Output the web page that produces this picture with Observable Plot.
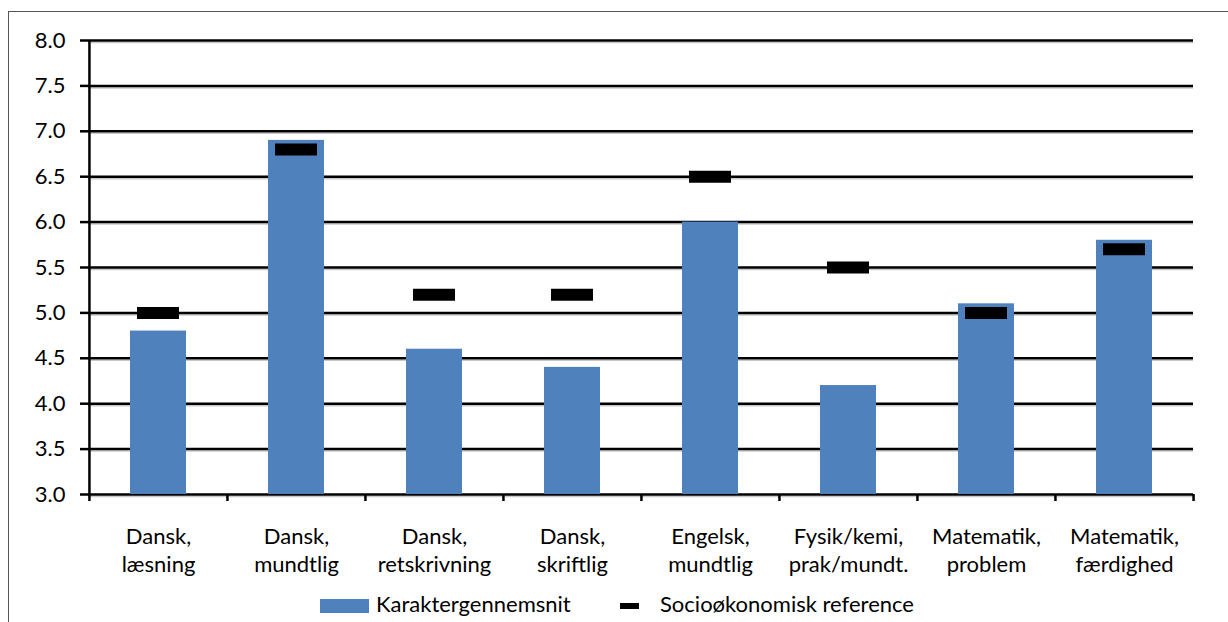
<!DOCTYPE html>
<html>
<head>
<meta charset="utf-8">
<script src="https://cdn.jsdelivr.net/npm/d3@7"></script>
<script src="https://cdn.jsdelivr.net/npm/@observablehq/plot@0.6"></script>
<style>
  html, body { margin: 0; padding: 0; background: #fff; }
  #wrap { position: relative; width: 1228px; height: 622px; overflow: hidden; font-family: Lato, "Open Sans", sans-serif; }
  #border { position: absolute; left: 8px; top: 11px; width: 1400px; height: 800px; border-left: 1px solid #555; border-top: 1px solid #555; }
  #chart { position: absolute; left: 0; top: 0; }
  .leg { position: absolute; font-size: 22px; line-height: 22px; color: #000; white-space: nowrap; }
  .sw { position: absolute; }
</style>
</head>
<body>
<div id="wrap">
  <div id="border"></div>
  <div id="chart"></div>
  <div class="sw" style="left:320px;top:599px;width:49px;height:14px;background:#4F81BD"></div>
  <div class="leg" style="left:376px;top:593px">Karaktergennemsnit</div>
  <div class="sw" style="left:620px;top:603px;width:19px;height:6px;background:#000"></div>
  <div class="leg" style="left:660px;top:593px">Socioøkonomisk reference</div>
</div>
<script>
const categories = ["Dansk, læsning", "Dansk, mundtlig", "Dansk, retskrivning", "Dansk, skriftlig", "Engelsk, mundtlig", "Fysik/kemi, prak/mundt.", "Matematik, problem", "Matematik, færdighed"];
const tickLabels = ["Dansk,\nlæsning", "Dansk,\nmundtlig", "Dansk,\nretskrivning", "Dansk,\nskriftlig", "Engelsk,\nmundtlig", "Fysik/kemi,\nprak/mundt.", "Matematik,\nproblem", "Matematik,\nfærdighed"];
const karaktergennemsnit = [4.8, 6.9, 4.6, 4.4, 6.0, 4.2, 5.1, 5.8];
const reference = [5.0, 6.8, 5.2, 5.2, 6.5, 5.5, 5.0, 5.7];
const yTicks = [3.0, 3.5, 4.0, 4.5, 5.0, 5.5, 6.0, 6.5, 7.0, 7.5, 8.0];

const data = categories.map((c, i) => ({cat: c, avg: karaktergennemsnit[i], ref: reference[i], label: tickLabels[i]}));
const labelOf = new Map(data.map(d => [d.cat, d.label]));

const W = 1228, H = 580, mL = 88, mR = 35, mT = 40, mB = 86;
const half = (W - mL - mR) / categories.length / 2;

const chart = Plot.plot({
  width: W,
  height: H,
  marginLeft: mL,
  marginRight: mR,
  marginTop: mT,
  marginBottom: mB,
  style: {fontFamily: "Lato, 'Open Sans', sans-serif", fontSize: "22px", color: "#000", background: "transparent", overflow: "visible"},
  x: {domain: categories, padding: 0},
  y: {domain: [3, 8]},
  marks: [
    Plot.ruleY(yTicks, {stroke: "#c8c8c8", strokeWidth: 1.5, dy: 2}),
    Plot.ruleY(yTicks, {stroke: "#000", strokeWidth: 2.5}),
    Plot.barY(data, {x: "cat", y1: 3, y2: "avg", fill: "#4F81BD", insetLeft: 41, insetRight: 41}),
    Plot.tickY(data, {x: "cat", y: "ref", stroke: "#000", strokeWidth: 12, insetLeft: 48, insetRight: 48}),
    Plot.ruleX([categories[0]], {x: d => d, y1: 3, y2: 8, dx: -half, stroke: "#000", strokeWidth: 2.5}),
    Plot.ruleX(categories, {x: d => d, y1: 3, y2: 3, dx: -half, insetBottom: -7, stroke: "#000", strokeWidth: 2.5}),
    Plot.ruleX([categories[categories.length - 1]], {x: d => d, y1: 3, y2: 3, dx: half, insetBottom: -7, stroke: "#000", strokeWidth: 2.5}),
    Plot.axisY({ticks: yTicks, tickFormat: d3.format(".1f"), tickSize: 8, tickPadding: 15, stroke: "#000", strokeWidth: 2.5, label: null, fill: "#000"}),
    Plot.axisX({tickSize: 0, tickPadding: 30, tickFormat: d => labelOf.get(d), lineHeight: 1.27, label: null, fill: "#000"})
  ]
});
document.getElementById("chart").appendChild(chart);
</script>
</body>
</html>
